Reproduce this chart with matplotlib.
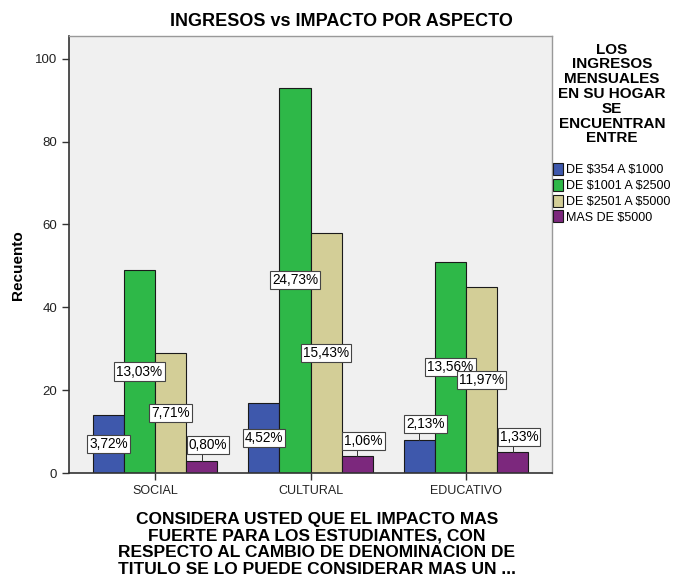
import matplotlib
matplotlib.use("Agg")
import matplotlib.pyplot as plt
import numpy as np

categories = ["SOCIAL", "CULTURAL", "EDUCATIVO"]
series_names = ["DE $354 A $1000", "DE $1001 A $2500", "DE $2501 A $5000", "MAS DE $5000"]
values = {
    "DE $354 A $1000": [14, 17, 8],
    "DE $1001 A $2500": [49, 93, 51],
    "DE $2501 A $5000": [29, 58, 45],
    "MAS DE $5000": [3, 4, 5],
}
pct_labels = {
    "DE $354 A $1000": ["3,72%", "4,52%", "2,13%"],
    "DE $1001 A $2500": ["13,03%", "24,73%", "13,56%"],
    "DE $2501 A $5000": ["7,71%", "15,43%", "11,97%"],
    "MAS DE $5000": ["0,80%", "1,06%", "1,33%"],
}
colors = ["#3E58AC", "#2EB848", "#D3CE97", "#7C287D"]
yticks = [0, 20, 40, 60, 80, 100]

plt.rcParams['font.family'] = ['Liberation Sans', 'DejaVu Sans']
plt.rcParams['text.parse_math'] = False

fig = plt.figure(figsize=(6.8, 5.78), dpi=100)
ax = fig.add_axes([69/680, 1 - 473/578, (552-69)/680, (473-36)/578])
ax.set_facecolor("#F0F0F0")

x = np.arange(len(categories))
w = 0.2
handles = []
for i, name in enumerate(series_names):
    xs = x + (i - 1.5) * w
    b = ax.bar(xs, values[name], width=w, color=colors[i], edgecolor="#1a1a1a", linewidth=0.8, zorder=2)
    handles.append(b)
    for xi, v, lab in zip(xs, values[name], pct_labels[name]):
        if v < 10:
            ly = v + 3.8
            lx = xi + 0.04
            ax.plot([xi, xi], [v, ly - 1.5], color="#333333", lw=0.7, zorder=3)
        else:
            ly = v / 2
            lx = xi
        ax.text(lx, ly, lab, ha="center", va="center", fontsize=9.8, zorder=4,
                bbox=dict(boxstyle="square,pad=0.15", facecolor="white", edgecolor="#444444", linewidth=0.8))

ax.set_xlim(-0.553, 2.553)
ax.set_ylim(0, 105.5)
ax.set_yticks(yticks)
ax.set_yticklabels([str(t) for t in yticks], fontsize=9.5, color="#222222")
ax.set_xticks(x)
ax.set_xticklabels(categories, fontsize=9, color="#222222")
ax.tick_params(axis="both", length=5, width=1, color="#333333")
for s in ["top", "right"]:
    ax.spines[s].set_color("#999999")
    ax.spines[s].set_linewidth(1)
for s in ["left", "bottom"]:
    ax.spines[s].set_color("#333333")
    ax.spines[s].set_linewidth(1.2)

ax.set_ylabel("Recuento", fontsize=11, fontweight="bold")
ax.yaxis.set_label_coords((25 - 69) / 483, (473 - 265) / 437)
ax.set_xlabel("CONSIDERA USTED QUE EL IMPACTO MAS\nFUERTE PARA LOS ESTUDIANTES, CON\nRESPECTO AL CAMBIO DE DENOMINACION DE\nTITULO SE LO PUEDE CONSIDERAR MAS UN ...",
              fontsize=12.5, fontweight="bold", linespacing=1.14)
ax.xaxis.set_label_coords((317 - 69) / 483, (473 - 512) / 437)

fig.text(341/680, 1 - 22/578, "INGRESOS vs IMPACTO POR ASPECTO", ha="center", va="center",
         fontsize=13, fontweight="bold")

fig.text(612/680, 1 - 94/578, "LOS\nINGRESOS\nMENSUALES\nEN SU HOGAR\nSE\nENCUENTRAN\nENTRE",
         ha="center", va="center", fontsize=11, fontweight="bold", linespacing=1.07)

leg = fig.legend(handles, series_names, loc="upper left", bbox_to_anchor=(553/680, 1 - 163/578),
                 frameon=False, fontsize=9, handlelength=0.8, handleheight=1.1,
                 handletextpad=0.25, labelspacing=0.2, borderaxespad=0, borderpad=0)

fig.savefig("out.png", dpi=100)
